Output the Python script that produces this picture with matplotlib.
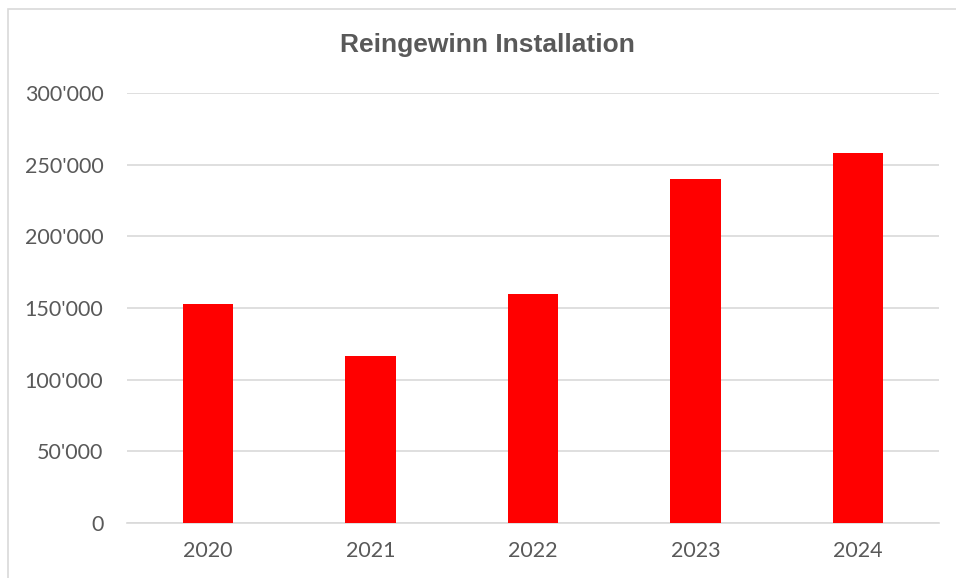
import matplotlib
matplotlib.use("Agg")
import matplotlib.pyplot as plt
from matplotlib.ticker import FuncFormatter, MultipleLocator
from matplotlib.patches import Rectangle

years = ["2020", "2021", "2022", "2023", "2024"]
values = [152600, 116700, 159600, 239800, 257900]
title = "Reingewinn Installation"

W, H = 956, 578
fig = plt.figure(figsize=(W / 100, H / 100), dpi=100)

# outer chart border (light grey)
fig.patches.append(Rectangle((8 / W, -0.1), 1.2, 1 - 9 / H + 0.1, transform=fig.transFigure,
                             fill=False, edgecolor="#d9d9d9", linewidth=1.2))

left, right, top, bottom = 127, 939, 93, 523
ax = fig.add_axes([left / W, 1 - bottom / H, (right - left) / W, (bottom - top) / H])

x = list(range(len(years)))
ax.bar(x, values, width=0.31, color="#ff0000", zorder=3)
ax.set_xlim(-0.5, len(years) - 0.5)
ax.set_ylim(0, 300000)
ax.yaxis.set_major_locator(MultipleLocator(50000))
ax.yaxis.set_major_formatter(FuncFormatter(lambda v, p: f"{int(v):,}".replace(",", "'")))
ax.set_xticks(x)
ax.set_xticklabels(years)

ax.grid(axis="y", color="#d9d9d9", linewidth=1.2, zorder=0)
for s in ["left", "right", "top"]:
    ax.spines[s].set_visible(False)
ax.spines["bottom"].set_color("#d9d9d9")
ax.spines["bottom"].set_linewidth(1.2)
ax.tick_params(axis="both", length=0, labelsize=15.5, labelcolor="#595959")
ax.tick_params(axis="y", pad=17)
ax.tick_params(axis="x", pad=13)
for lab in ax.get_xticklabels() + ax.get_yticklabels():
    lab.set_family(["Liberation Sans Narrow", "Lato", "DejaVu Sans"])

fig.text(487 / W, 1 - 45 / H, title, ha="center", va="center", fontsize=19,
         fontweight="bold", color="#595959", family=["Liberation Sans", "DejaVu Sans"])

fig.savefig("out.png", dpi=100)
